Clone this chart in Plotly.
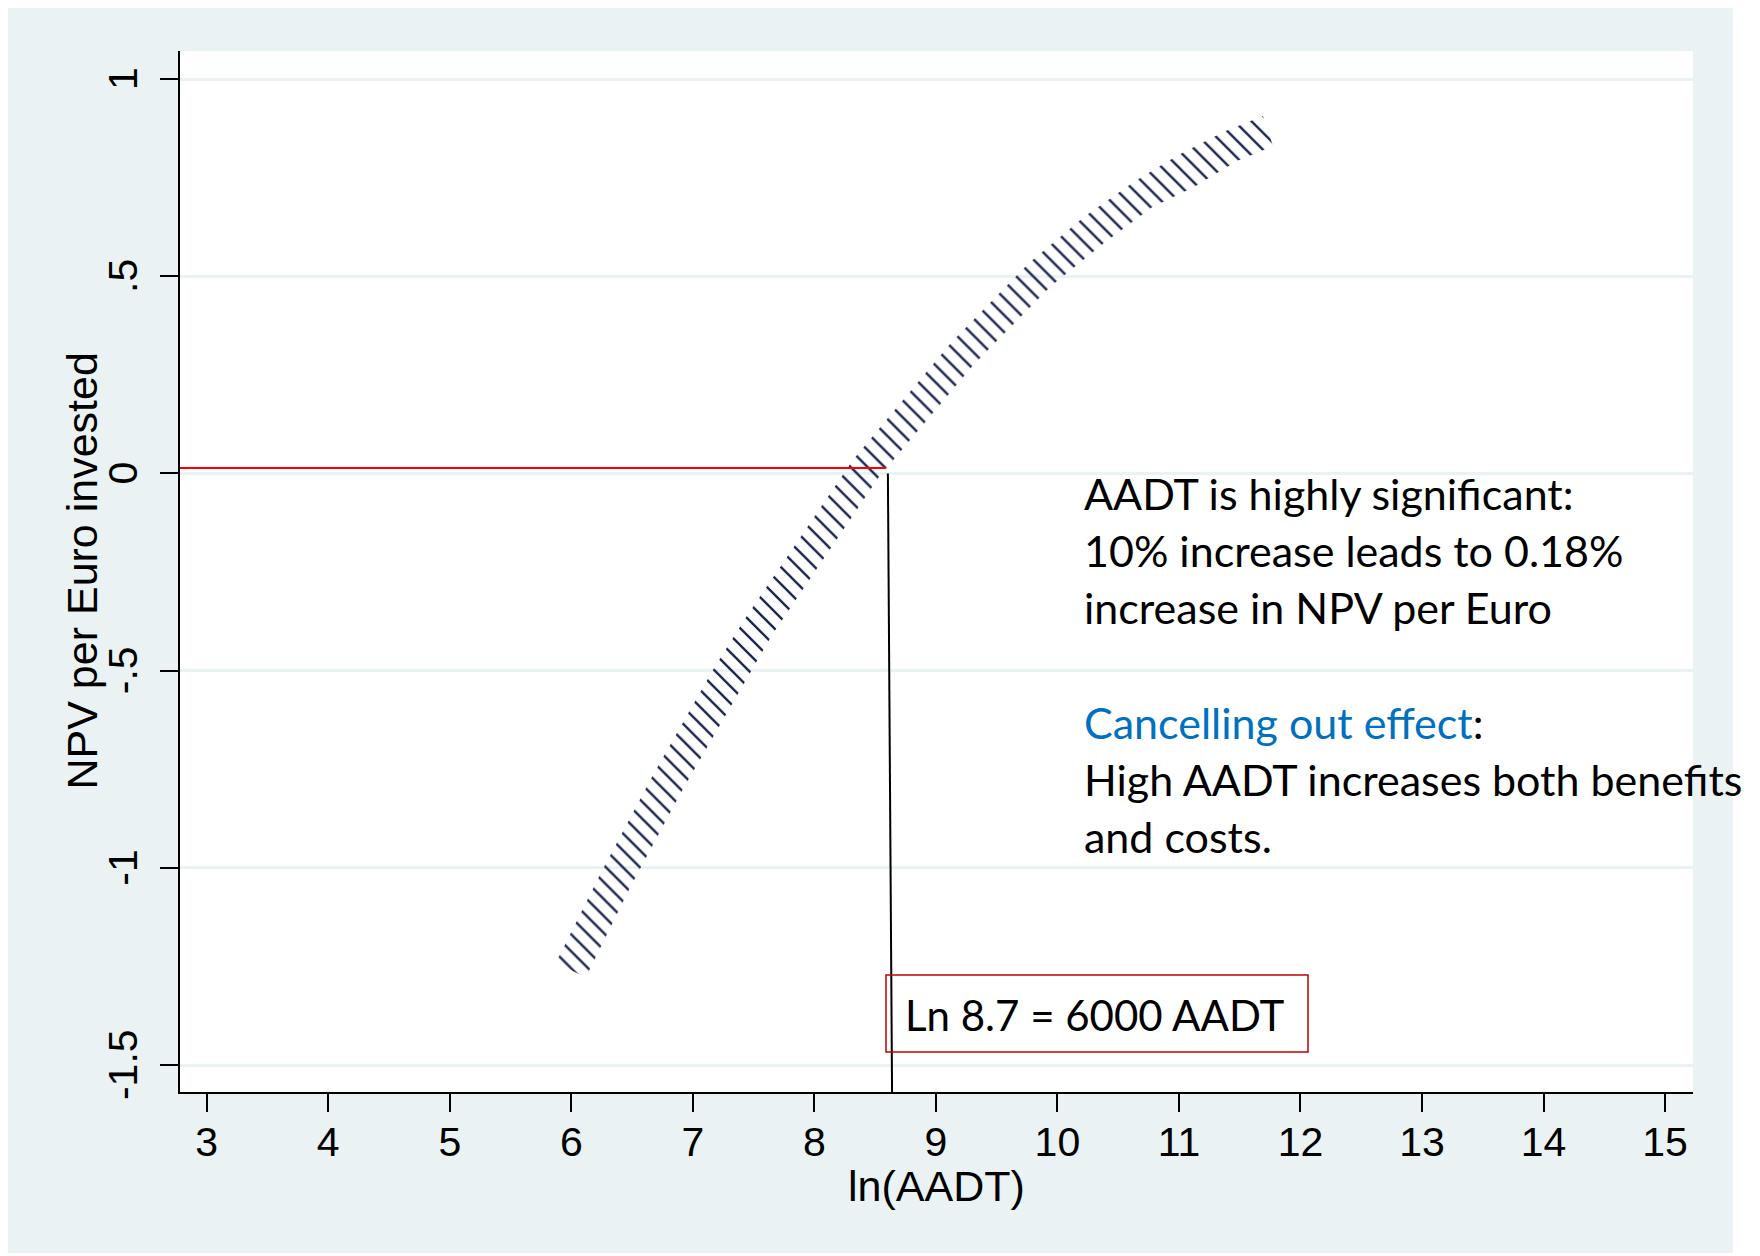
import plotly.graph_objects as go

# ---------------- data ----------------
# confidence band: upper-left edge and lower-right edge (ln(AADT), NPV per Euro)
band_upper_x = [5.872, 6.243, 6.671, 7.165, 7.428, 8.317, 9.123, 9.765, 10.218, 10.638, 10.992, 11.370, 11.691]
band_upper_y = [-1.241, -1.013, -0.765, -0.498, -0.369, 0.034, 0.331, 0.533, 0.650, 0.741, 0.807, 0.866, 0.906]
band_lower_x = [6.119, 6.481, 6.909, 7.403, 7.650, 8.531, 9.313, 9.947, 10.383, 10.778, 11.123, 11.477, 11.774]
band_lower_y = [-1.277, -1.051, -0.805, -0.542, -0.410, -0.009, 0.277, 0.475, 0.584, 0.675, 0.726, 0.792, 0.830]

# reference lines
red_line_x = [2.5, 8.59]
red_line_y = [0.014, 0.014]
black_line_x = [8.605, 8.64]
black_line_y = [0.0, -1.6]

x_tickvals = [3, 4, 5, 6, 7, 8, 9, 10, 11, 12, 13, 14, 15]
y_tickvals = [-1.5, -1.0, -0.5, 0.0, 0.5, 1.0]
y_ticktext = ["-1.5", "-1", "-.5", "0", ".5", "1"]

x_title = "ln(AADT)"
y_title = "NPV per Euro invested"
box_text = "Ln 8.7 = 6000 AADT"
note_lines = [
    "AADT is highly significant:",
    "10% increase leads to 0.18%",
    "increase in NPV per Euro",
    "<span style='color:#0070C0'>Cancelling out effect</span>:",
    "High AADT increases both benefits",
    "and costs.",
]

# ---------------- layout geometry ----------------
OFF = 8  # page offset of the figure (body margin)
W, H = 1760, 1256
# plot area in page pixels
L_pg, R_pg, T_pg, B_pg = 180, 1693, 51, 1092
L, R, T, B = L_pg - OFF, R_pg - OFF, T_pg - OFF, B_pg - OFF
PW, PH = R - L, B - T


def px(xpage):
    return (xpage - OFF - L) / PW


def py(ypage):
    return (B - (ypage - OFF)) / PH


BG = "#EAF2F3"
NAVY = "#1b2551"
AX_FONT = "Liberation Sans, Arial, sans-serif"
TXT_FONT = "Lato, Calibri, sans-serif"

fig = go.Figure()

fig.add_trace(go.Scatter(
    x=band_upper_x + band_lower_x[::-1],
    y=band_upper_y + band_lower_y[::-1],
    mode="lines", fill="toself",
    line=dict(width=0, color="rgba(0,0,0,0)"),
    fillcolor="rgba(0,0,0,0)",
    fillpattern=dict(shape="\\", fgcolor=NAVY, bgcolor="rgba(0,0,0,0)",
                     fgopacity=1, size=12, solidity=0.2, fillmode="overlay"),
    hoverinfo="skip", showlegend=False,
))

fig.add_trace(go.Scatter(x=red_line_x, y=red_line_y, mode="lines",
                         line=dict(color="#FF0000", width=2), showlegend=False))
fig.add_trace(go.Scatter(x=black_line_x, y=black_line_y, mode="lines",
                         line=dict(color="black", width=2), showlegend=False))

shapes = [
    dict(type="rect", xref="paper", yref="paper",
         x0=px(8), x1=px(1733), y0=py(1253), y1=py(7),
         fillcolor=BG, line=dict(width=0), layer="below"),
    dict(type="rect", xref="paper", yref="paper",
         x0=0, x1=1, y0=0, y1=1,
         fillcolor="white", line=dict(width=0), layer="below"),
    dict(type="rect", xref="paper", yref="paper",
         x0=px(886), x1=px(1308), y0=py(1052), y1=py(975),
         fillcolor="rgba(0,0,0,0)", line=dict(color="#C00000", width=1.5)),
]

annotations = [
    dict(text=x_title, xref="paper", yref="paper", x=0.5, y=py(1186),
         xanchor="center", yanchor="middle", showarrow=False,
         font=dict(family=AX_FONT, size=43, color="black")),
    dict(text=y_title, xref="paper", yref="paper", x=px(81), y=0.5,
         xanchor="center", yanchor="middle", showarrow=False, textangle=-90,
         font=dict(family=AX_FONT, size=43, color="black")),
    dict(text=box_text, xref="paper", yref="paper", x=px(903), y=py(1030 - 15),
         xanchor="left", yanchor="middle", showarrow=False,
         font=dict(family=TXT_FONT, size=42, color="black")),
]
baselines = [507, 564, 621, 736, 793, 850]
for line, bl in zip(note_lines, baselines):
    annotations.append(dict(text=line, xref="paper", yref="paper",
                            x=px(1082), y=py(bl - 14),
                            xanchor="left", yanchor="middle", showarrow=False,
                            font=dict(family=TXT_FONT, size=43, color="black")))

fig.update_layout(
    width=W, height=H,
    margin=dict(l=L, r=W - R, t=T, b=H - B, pad=0),
    paper_bgcolor="white", plot_bgcolor="white",
    shapes=shapes, annotations=annotations, showlegend=False,
    xaxis=dict(range=[2.78, 15.23], tickvals=x_tickvals, ticks="outside",
               ticklen=18, tickwidth=2, tickcolor="black",
               showline=True, linecolor="black", linewidth=2,
               showgrid=False, zeroline=False, ticklabelstandoff=-5,
               tickfont=dict(family=AX_FONT, size=41, color="black")),
    yaxis=dict(range=[-1.568, 1.071], tickvals=y_tickvals,
               ticktext=[t + "\u00a0" for t in y_ticktext],
               tickangle=-90, ticks="outside", ticklen=18, tickwidth=2,
               tickcolor="black", showline=True, linecolor="black", linewidth=2,
               showgrid=True, gridcolor=BG, gridwidth=3, zeroline=False,
               ticklabelstandoff=7,
               tickfont=dict(family=AX_FONT, size=41, color="black")),
)

fig.write_html("out.html")
